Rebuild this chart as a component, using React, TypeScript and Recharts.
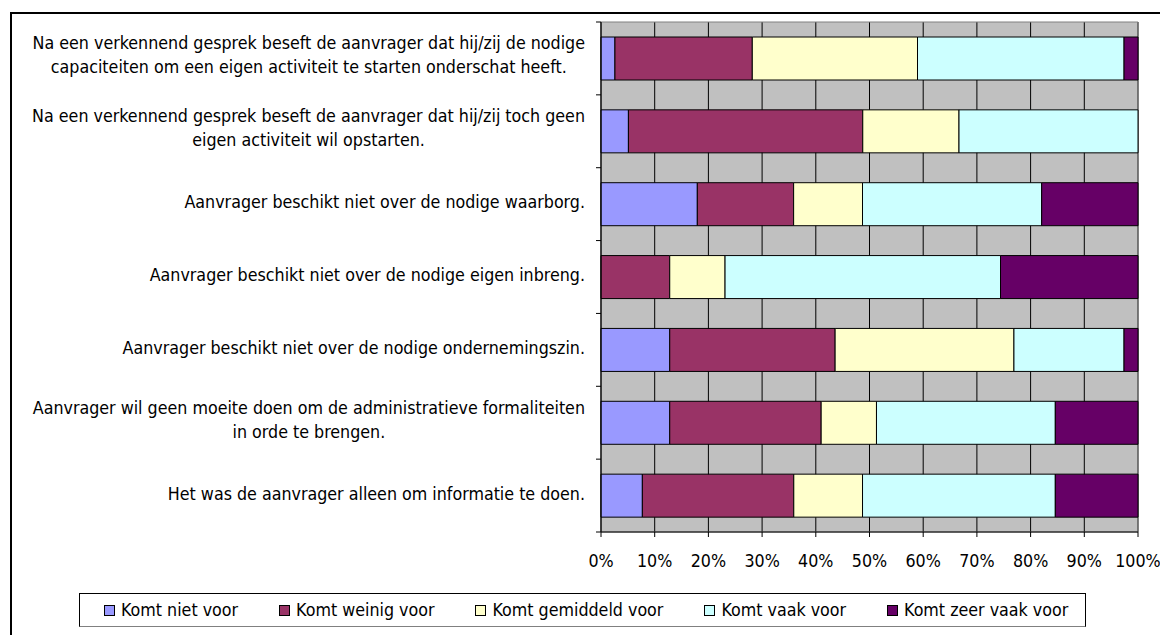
import React from 'react';
import { BarChart, Bar, XAxis, YAxis, CartesianGrid, ReferenceArea } from 'recharts';

const categories = [
  'Na een verkennend gesprek beseft de aanvrager dat hij/zij de nodige\ncapaciteiten om een eigen activiteit te starten onderschat heeft.',
  'Na een verkennend gesprek beseft de aanvrager dat hij/zij toch geen\neigen activiteit wil opstarten.',
  'Aanvrager beschikt niet over de nodige waarborg.',
  'Aanvrager beschikt niet over de nodige eigen inbreng.',
  'Aanvrager beschikt niet over de nodige ondernemingszin.',
  'Aanvrager wil geen moeite doen om de administratieve formaliteiten\nin orde te brengen.',
  'Het was de aanvrager alleen om informatie te doen.',
];

const nietVoor = [2.6, 5.1, 17.9, 0, 12.8, 12.8, 7.7];
const weinigVoor = [25.6, 43.6, 17.9, 12.8, 30.8, 28.2, 28.2];
const gemiddeldVoor = [30.8, 17.9, 12.8, 10.3, 33.3, 10.3, 12.8];
const vaakVoor = [38.5, 33.3, 33.3, 51.3, 20.5, 33.3, 35.9];
const zeerVaakVoor = [2.6, 0, 17.9, 25.6, 2.6, 15.4, 15.4];

const xTicks = [0, 0.1, 0.2, 0.3, 0.4, 0.5, 0.6, 0.7, 0.8, 0.9, 1];

const series = [
  { key: 'niet', name: 'Komt niet voor', color: '#9999FF' },
  { key: 'weinig', name: 'Komt weinig voor', color: '#993366' },
  { key: 'gemiddeld', name: 'Komt gemiddeld voor', color: '#FFFFCC' },
  { key: 'vaak', name: 'Komt vaak voor', color: '#CCFFFF' },
  { key: 'zeer', name: 'Komt zeer vaak voor', color: '#660066' },
];

const data = categories.map((label, i) => ({
  label,
  niet: nietVoor[i],
  weinig: weinigVoor[i],
  gemiddeld: gemiddeldVoor[i],
  vaak: vaakVoor[i],
  zeer: zeerVaakVoor[i],
}));

const FONT = "'DejaVu Sans Condensed', 'DejaVu Sans', sans-serif";
const FONT_SIZE = 17.7;
const W = 1160;
const H = 635;
const PLOT_TOP = 22;
const PLOT_LEFT = 601;
const PLOT_RIGHT = 1138;
const X_AXIS_H = 40;
const PLOT_BOTTOM = 532;
const BAND = (PLOT_BOTTOM - PLOT_TOP) / categories.length;

let ctx: CanvasRenderingContext2D | null = null;
function measure(text: string) {
  if (!ctx) {
    ctx = document.createElement('canvas').getContext('2d');
  }
  if (!ctx) return text.length * 8.3;
  ctx.font = `${FONT_SIZE}px ${FONT}`;
  return ctx.measureText(text).width;
}

function CategoryTick(props: any) {
  const { x, y, payload, index } = props;
  const lines = String(payload.value).split('\n');
  const maxW = Math.max(...lines.map(measure));
  const cx = x - 16 - maxW / 2;
  const baselines = lines.length === 1 ? [y + 4] : [y - 9, y + 15];
  return (
    <g>
      <line x1={x - 5} x2={x} y1={y - BAND / 2} y2={y - BAND / 2} stroke="#000" />
      {index === categories.length - 1 && (
        <line x1={x - 5} x2={x} y1={y + BAND / 2} y2={y + BAND / 2} stroke="#000" />
      )}
      {lines.map((line, i) => (
        <text
          key={i}
          x={cx}
          y={baselines[i]}
          textAnchor="middle"
          fill="#000"
          fontSize={FONT_SIZE}
          fontFamily={FONT}
        >
          {line}
        </text>
      ))}
    </g>
  );
}

export default function App() {
  return (
    <div style={{ position: 'fixed', left: 0, top: 0, width: W, height: H, background: '#fff', fontFamily: FONT }}>
      <div
        style={{
          position: 'absolute',
          left: 10,
          top: 12,
          width: W - 10,
          height: H - 12,
          borderLeft: '2px solid #000',
          borderTop: '2px solid #000',
          boxSizing: 'border-box',
        }}
      />
      <div style={{ position: 'absolute', left: 0, top: 0 }}>
        <BarChart
          width={W}
          height={H}
          data={data}
          layout="vertical"
          stackOffset="expand"
          barSize={43}
          margin={{ top: PLOT_TOP, right: W - PLOT_RIGHT, left: 0, bottom: H - PLOT_BOTTOM - X_AXIS_H }}
        >
          <CartesianGrid horizontal={false} stroke="#000" fill="#C0C0C0" fillOpacity={1} />
          <XAxis
            type="number"
            domain={[0, 1]}
            ticks={xTicks}
            tickFormatter={(v: number) => `${Math.round(v * 100)}%`}
            height={X_AXIS_H}
            axisLine={{ stroke: '#000' }}
            tickLine={{ stroke: '#000' }}
            tickSize={5}
            tickMargin={17}
            tick={{ fill: '#000', fontSize: FONT_SIZE, fontFamily: FONT }}
          />
          <YAxis
            type="category"
            dataKey="label"
            width={PLOT_LEFT}
            axisLine={{ stroke: '#000' }}
            tickLine={false}
            tickSize={0}
            tickMargin={0}
            interval={0}
            tick={<CategoryTick />}
          />
          <ReferenceArea x1={0} x2={1} fill="none" stroke="#808080" ifOverflow="visible" />
          {series.map((s) => (
            <Bar
              key={s.key}
              dataKey={s.key}
              name={s.name}
              stackId="a"
              fill={s.color}
              stroke="#000"
              strokeWidth={1}
              isAnimationActive={false}
            />
          ))}
        </BarChart>
      </div>
      <div
        style={{
          position: 'absolute',
          left: 79,
          top: 593,
          width: 1007,
          height: 34,
          boxSizing: 'border-box',
          border: '1px solid #000',
          borderBottomColor: '#808080',
          display: 'flex',
          alignItems: 'center',
          paddingLeft: 24,
          columnGap: 41,
          fontSize: FONT_SIZE,
          color: '#000',
        }}
      >
        {series.map((s) => (
          <div key={s.key} style={{ display: 'flex', alignItems: 'center' }}>
            <span
              style={{
                display: 'inline-block',
                width: 11,
                height: 11,
                boxSizing: 'border-box',
                border: '1px solid #000',
                background: s.color,
                marginRight: 6,
              }}
            />
            <span>{s.name}</span>
          </div>
        ))}
      </div>
    </div>
  );
}
